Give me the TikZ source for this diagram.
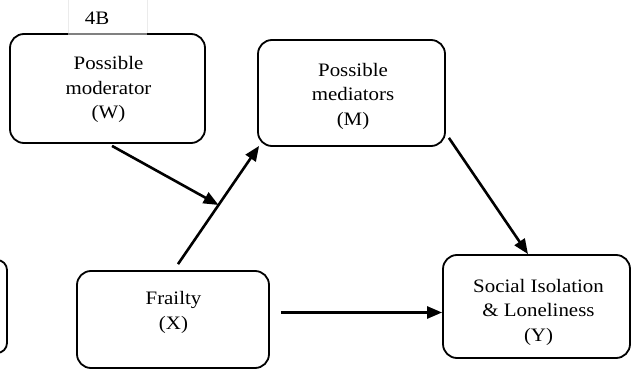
\documentclass[tikz,border=0pt]{standalone}
\usepackage{fontspec}
\setmainfont{Liberation Serif}[FakeStretch=1.1]
\usetikzlibrary{arrows.meta,calc}

\begin{document}
\begin{tikzpicture}[x=1pt,y=-1pt,
  box/.style={draw, line width=1.8pt, rounded corners=14pt, inner sep=0pt},
  lbl/.style={align=center, inner sep=0pt, font=\fontsize{19}{24.5}\selectfont},
  link/.style={line width=2.6pt, -{Triangle[length=15pt,width=12pt]}},
]
\useasboundingbox (0,0) rectangle (631,371);
\clip (0,0) rectangle (631,371);

% boxes of the model
\node[box, minimum width=47pt, minimum height=93pt, rounded corners=10pt] (P) at (-16.5,306.5) {};
\node[box, minimum width=195pt, minimum height=109pt] (W) at (107.5,88.5) {};
\node[box, minimum width=187pt, minimum height=106pt] (M) at (351.5,93) {};
\node[box, minimum width=192pt, minimum height=97pt] (X) at (173,319.5) {};
\node[box, minimum width=187pt, minimum height=103pt] (Y) at (536.5,306.5) {};

% panel tag with its faint frame
\fill[white, opacity=.5] (68,0) rectangle (147,35);
\draw[black!8, line width=.6pt] (68,0) -- (68,33) (147,0) -- (147,33);
\node[lbl, anchor=base] (tag) at (97,25) {4B};

% box texts
\node[lbl] (Wt) at (108.5,89.5) {Possible\\moderator\\(W)};
\node[lbl] (Mt) at (353,96) {Possible\\mediators\\(M)};
\node[lbl] (Xt) at (173.5,312.5) {Frailty\\(X)};
\node[lbl] (Yt) at (538.5,312) {Social Isolation\\\& Loneliness\\(Y)};

% paths
\coordinate (xm0) at ($(X.north)+(5,-6)$);
\coordinate (mEnd) at ($(M.south west)+(2,-1)$);
\coordinate (J) at ($(xm0)!0.5!(mEnd)$);
\draw[link] (xm0) -- (mEnd);
\draw[link] ($(W.south)+(4.5,2)$) -- (J);
\draw[link] ($(M.south east)+(3,-9)$) -- ($(Y.north)+(-8.5,0)$);
\coordinate (xy0) at ($(X.east)+(11,-7)$);
\draw[link] (xy0) -- (Y.west |- xy0);
\end{tikzpicture}
\end{document}
